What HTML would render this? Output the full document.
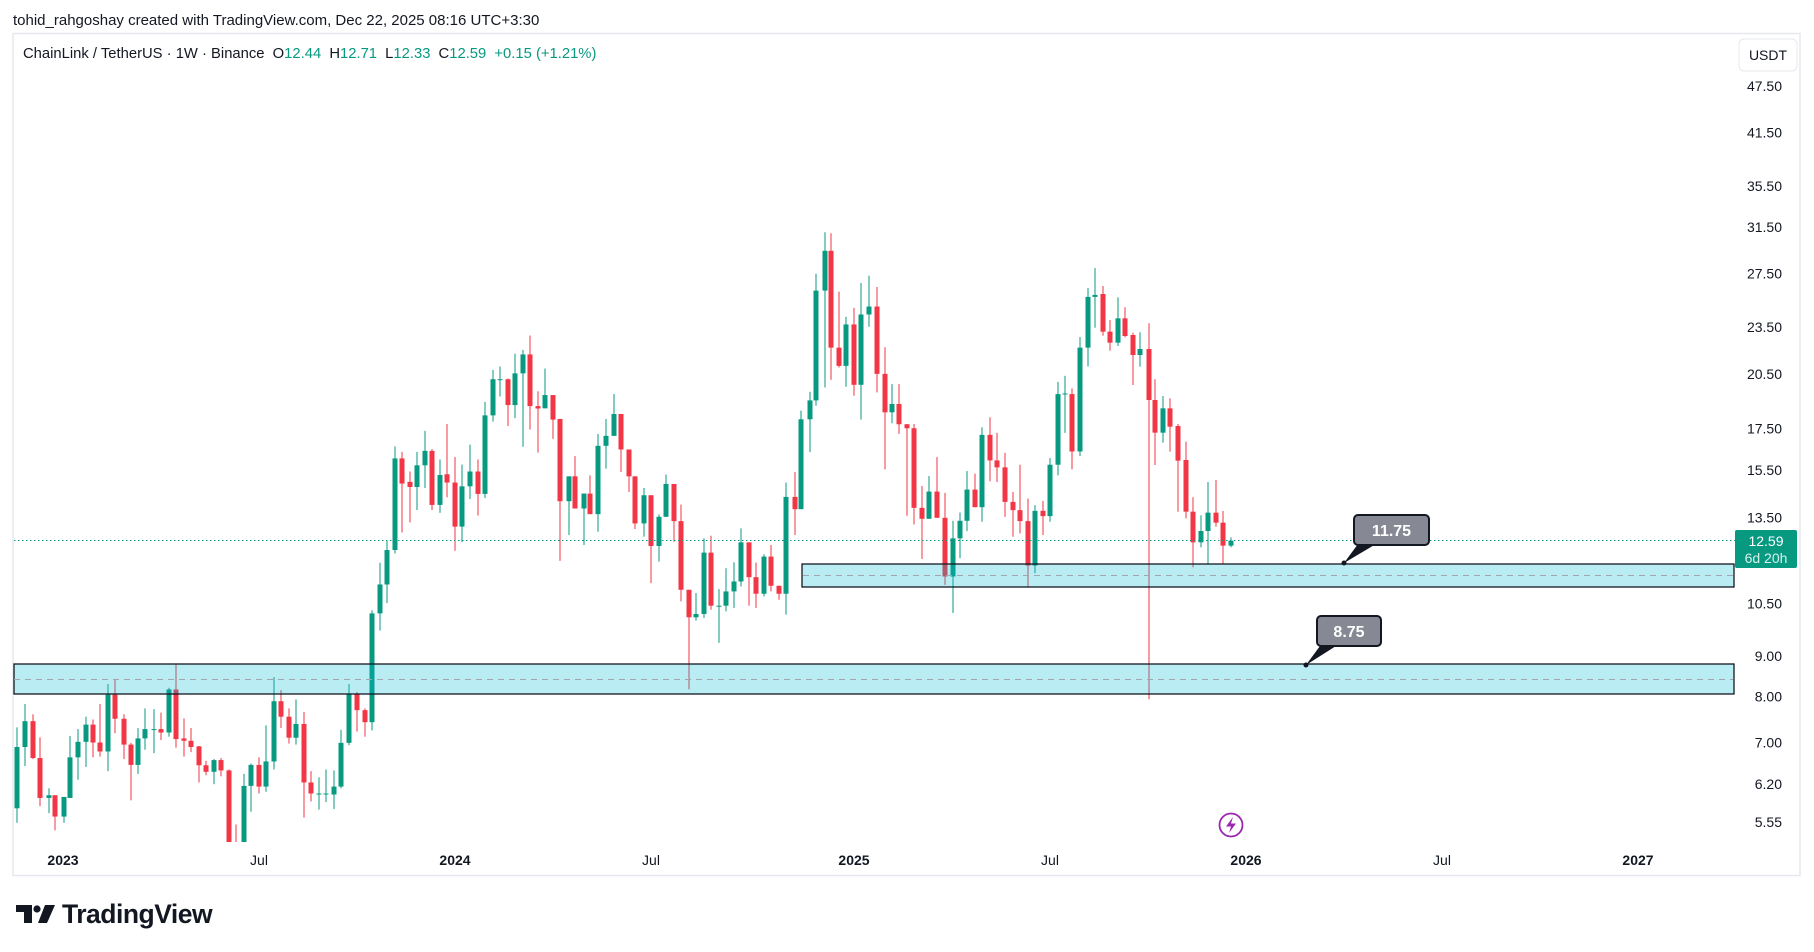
<!DOCTYPE html>
<html><head><meta charset="utf-8">
<style>
html,body{margin:0;padding:0;background:#fff;}
svg{display:block;font-family:"Liberation Sans",Arial,sans-serif;}
</style></head>
<body>
<svg id="c" width="1814" height="952" viewBox="0 0 1814 952" xmlns="http://www.w3.org/2000/svg">
<rect width="1814" height="952" fill="#fff"/>
<text x="13" y="25" font-size="15" fill="#131722">tohid_rahgoshay created with TradingView.com, Dec 22, 2025 08:16 UTC+3:30</text>
<rect x="13" y="33.5" width="1787" height="842" fill="#fff" stroke="#e6e8ee" stroke-width="1.5"/>
<defs><clipPath id="pc"><rect x="14" y="34" width="1720" height="808"/></clipPath></defs>
<g id="candles" clip-path="url(#pc)"></g>
<line x1="14" y1="540.5" x2="1735" y2="540.5" stroke="#089981" stroke-width="1" stroke-dasharray="1.5,2.5"/>
<rect x="802" y="564" width="932" height="23" fill="rgba(0,188,212,0.27)" stroke="#131722" stroke-width="1.3"/>
<line x1="803" y1="575.5" x2="1733" y2="575.5" stroke="#a3a6af" stroke-width="1" stroke-dasharray="6,5"/>
<rect x="14" y="664" width="1720" height="30" fill="rgba(0,188,212,0.27)" stroke="#131722" stroke-width="1.3"/>
<line x1="14" y1="679.5" x2="1733" y2="679.5" stroke="#a3a6af" stroke-width="1" stroke-dasharray="6,5"/>
<path d="M1358 544 L1344 563 L1376 544 Z" fill="#131722"/>
<rect x="1354" y="515" width="75" height="30" rx="4" fill="#868993" stroke="#131722" stroke-width="2"/>
<text x="1391.5" y="536" font-size="16" font-weight="bold" fill="#fff" text-anchor="middle">11.75</text>
<circle cx="1344" cy="563" r="2.5" fill="#131722"/>
<path d="M1320 646 L1306 665 L1336 646 Z" fill="#131722"/>
<rect x="1317" y="616" width="64" height="30" rx="4" fill="#868993" stroke="#131722" stroke-width="2"/>
<text x="1349" y="637" font-size="16" font-weight="bold" fill="#fff" text-anchor="middle">8.75</text>
<circle cx="1306" cy="665" r="2.5" fill="#131722"/>
<text x="23" y="58" font-size="14.8" fill="#131722">ChainLink / TetherUS · 1W · Binance <tspan dx="4">O</tspan><tspan fill="#089981">12.44</tspan> <tspan dx="4">H</tspan><tspan fill="#089981">12.71</tspan> <tspan dx="4">L</tspan><tspan fill="#089981">12.33</tspan> <tspan dx="4">C</tspan><tspan fill="#089981">12.59</tspan> <tspan dx="4" fill="#089981">+0.15 (+1.21%)</tspan></text>
<rect x="1739" y="39" width="58" height="32" rx="5" fill="#fff" stroke="#e6e8ee"/>
<text x="1768" y="60" font-size="14" fill="#131722" text-anchor="middle">USDT</text>
<g id="yax" font-size="14" fill="#131722" text-anchor="end"></g>
<rect x="1735" y="530" width="62" height="38" rx="2" fill="#089981"/>
<text x="1766" y="546" font-size="14" fill="#fff" text-anchor="middle">12.59</text>
<text x="1766" y="563" font-size="14" fill="#d6f2ec" text-anchor="middle">6d 20h</text>
<g font-size="14" fill="#131722" text-anchor="middle">
<text x="63" y="865" font-weight="bold">2023</text>
<text x="259" y="865">Jul</text>
<text x="455" y="865" font-weight="bold">2024</text>
<text x="651" y="865">Jul</text>
<text x="854" y="865" font-weight="bold">2025</text>
<text x="1050" y="865">Jul</text>
<text x="1246" y="865" font-weight="bold">2026</text>
<text x="1442" y="865">Jul</text>
<text x="1638" y="865" font-weight="bold">2027</text>
</g>
<circle cx="1231" cy="825" r="11.5" fill="#fff" stroke="#9c27b0" stroke-width="1.8"/>
<path d="M1233 817 L1226 826.5 L1231 826.5 L1229 833 L1236 823.5 L1231 823.5 Z" fill="#9c27b0"/>
<g fill="#131722">
<path d="M16 905 H32 V923 H24 V912 H16 Z"/>
<circle cx="37" cy="909" r="3.6"/>
<path d="M45 905 H55 L47 923 H38 Z"/>
</g>
<text x="62" y="923" font-size="26.5" font-weight="bold" fill="#131722" letter-spacing="-0.5">TradingView</text>
</svg>
<script>
(function(){
var NS="http://www.w3.org/2000/svg";
var Z3=[[48,1418,1240,1183,1460],[70,1240,1165,1115,1295],[91,1165,1272,1145,1275],[113,1272,1388,1212,1412],[136,1388,1380,1360,1432],[155,1380,1442,1380,1482],[178,1442,1385,1385,1460],[197,1388,1270,1208,1388],[219,1270,1225,1188,1335],[240,1225,1175,1152,1298],[261,1175,1227,1160,1270],[281,1227,1253,1115,1268],[303,1253,1088,1057,1310],[323,1088,1158,1042,1200],[346,1158,1233,1145,1275],[366,1233,1292,1228,1395],[387,1292,1215,1185,1318],[407,1215,1188,1128,1248],[430,1188,1188,1130,1258],[451,1188,1198,1140,1220],[472,1198,1073,1068,1210],[494,1073,1217,997,1242],[514,1215,1222,1157,1268],[536,1222,1240,1185,1255],[556,1238,1293,1237,1343],[578,1293,1312,1280,1322],[598,1312,1278,1275,1348],[620,1278,1308,1272,1325],[640,1308,1540,1305,1540],[662,1540,1560,1465,1560],[682,1560,1353,1318,1560],[704,1353,1292,1288,1428],[726,1292,1355,1270,1375],[746,1355,1282,1177,1370],[768,1282,1107,1037,1305],[788,1107,1152,1075,1185],[810,1152,1213,1128,1230],[830,1213,1173,1102,1233],[852,1173,1343,1138,1445],[872,1343,1375,1310,1398],[892,1375,1375,1328,1422],[914,1375,1375,1305,1400],[936,1378,1355,1308,1420],[956,1355,1228,1190,1360],[978,1228,1087,1057,1235],[1000,1087,1133,1080,1195],[1021,1133,1168,1128,1210],[1042,1168,852,843,1192],[1063,852,768,705,902],[1084,768,668,642,822],[1105,668,402,367,678],[1126,402,475,383,617],[1147,470,485,440,588],[1168,485,422,383,552],[1189,422,380,322,488],[1210,380,537,375,552],[1231,537,450,405,560],[1252,448,472,302,515],[1273,472,600,398,670],[1294,600,483,420,645],[1317,483,440,362,520],[1337,440,505,405,568],[1358,505,277,238,517],[1379,277,172,145,295],[1400,172,172,135,222],[1421,172,247,170,308],[1442,247,155,98,285],[1463,155,100,87,368],[1485,100,250,45,318],[1505,250,257,207,385]];
var Z4=[[15,598,558,478],[35,558,632,0,690],[57,630,878,0,1058],[80,878,803,0,980],[99,803,900,742],[122,900,855,0,1010],[141,855,917,800],[163,917,711,675,970],[184,711,681,630,780],[206,681,615,555],[226,615,722,0,790],[248,722,803,0,850],[267,803,945,0,962],[290,945,860,838,985],[310,860,1013,0,1125],[332,1013,925,918,1060],[354,925,826,798],[374,826,938,0,1000],[396,938,1145,888,1180],[416,1145,1228,0,1445],[438,1228,1218,1155,1238],[458,1218,1033,990,1230],[480,1033,1193,982,1205],[500,1193,1193,1143,1305],[522,1193,1150,1080,1210],[542,1150,1120,1062,1200],[564,1120,1002,960,1135],[584,1002,1107,0,1193],[606,1107,1157,1063,1200],[626,1157,1045,1038,1165],[648,1045,1133,1010,1150],[670,1133,1157,0,1175],[690,1157,865,822,1220],[713,865,902,790,980],[732,902,631,605],[755,631,574,548,730],[774,574,243,192,590],[797,243,123,67,535],[816,123,415,70,512],[838,415,470,246,475],[858,470,345,322,533],[880,345,527,295,560],[900,527,315,220,632],[922,315,291,198,352],[944,291,494,232,550],[965,494,610,414,782],[986,610,585,525,643],[1006,585,646,525,675],[1028,646,658,645,922],[1048,658,898,645,948],[1070,898,931,832,1052],[1090,931,849,802],[1112,849,928,745],[1133,928,1105,853,1130],[1155,1105,990,937,1215],[1175,990,937,912,1050],[1196,937,843,787,968],[1217,843,896,795],[1238,896,678,655,940],[1260,678,755,625,818],[1280,755,776,672,820],[1302,776,880,732,925],[1323,880,905,850,985],[1344,905,938,768,975],[1365,938,1072,870,1135],[1386,1072,907,890,1095],[1407,907,923,877,980],[1428,923,768,748,940],[1449,768,555,518,800],[1470,553,553,500,672],[1490,555,728,538,782],[1512,728,415,383,742],[1535,415,262,235,472],[1555,262,256,175,355]];
var Z5=[[310,162,275,138,287],[331,275,308,240,332],[355,308,235,172,318],[376,235,288,202,292],[400,285,345,278,435],[421,345,327,277,380],[446,327,480,250,1378],[466,480,578,418,675],[490,578,505,468,608],[511,505,560,475,635],[535,558,662,552,815],[559,660,815,605,835],[580,815,907,772,982],[604,907,873,826,922],[625,873,818,726,972],[649,818,848,720,860],[670,848,917,813,972],[694,917,902,892,922]];
var g=document.getElementById('candles');
function add(arr,fx,fy){
 arr.forEach(function(d){
  var x=fx(d[0]),o=fy(d[1]),c=fy(d[2]);
  var h=d[3]?fy(d[3]):Math.min(o,c), l=d[4]?fy(d[4]):Math.max(o,c);
  h=Math.min(h,o,c); l=Math.max(l,o,c);
  var up=c<=o; var col=up?'#089981':'#f23645';
  var xr=Math.round(x);
  var w=document.createElementNS(NS,'rect');
  w.setAttribute('x',xr-0.5);w.setAttribute('y',h);w.setAttribute('width',1);w.setAttribute('height',Math.max(l-h,0.5));w.setAttribute('fill',col);g.appendChild(w);
  var b=document.createElementNS(NS,'rect');
  var top=Math.min(o,c),bh=Math.max(Math.abs(o-c),1);
  b.setAttribute('x',xr-2.5);b.setAttribute('y',top);b.setAttribute('width',5);b.setAttribute('height',bh);b.setAttribute('fill',col);g.appendChild(b);
 });
}
add(Z3,function(v){return v/2.8;},function(v){return 320+v/2.904;});
add(Z4,function(v){return 540+v/2.8;},function(v){return 210+v/3.015;});
add(Z5,function(v){return 1000+v/3;},function(v){return 240+v/3;});
var yax=document.getElementById('yax');
["47.50","41.50","35.50","31.50","27.50","23.50","20.50","17.50","15.50","13.50","10.50","9.00","8.00","7.00","6.20","5.55"].forEach(function(s){
 var p=parseFloat(s); var y=86+(Math.log(47.5)-Math.log(p))*342.8;
 var t=document.createElementNS(NS,'text');t.setAttribute('x',1782);t.setAttribute('y',y+5);t.textContent=s;yax.appendChild(t);
});
})();
</script>
</body></html>
